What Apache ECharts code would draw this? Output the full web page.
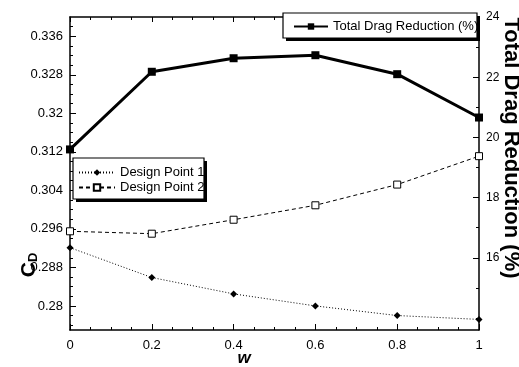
<!DOCTYPE html>
<html><head><meta charset="utf-8">
<script src="https://cdn.jsdelivr.net/npm/echarts@6/dist/echarts.min.js"></script>
<style>html,body{margin:0;padding:0;background:#fff}#c{width:519px;height:367px}</style>
</head><body><div id="c"></div>
<script>
// ---- data ----
const wValues = [0, 0.2, 0.4, 0.6, 0.8, 1];
const totalDragReduction = [19.60, 22.18, 22.63, 22.73, 22.10, 20.66];
const designPoint1 = [0.2921, 0.2859, 0.2825, 0.2800, 0.2780, 0.2772];
const designPoint2 = [0.2955, 0.2950, 0.2979, 0.3009, 0.3052, 0.3111];
const cdTicks = [0.28, 0.288, 0.296, 0.304, 0.312, 0.32, 0.328, 0.336];
const cdMinorTicks = [0.276, 0.278, 0.282, 0.284, 0.286, 0.29, 0.292, 0.294, 0.298, 0.3, 0.302,
  0.306, 0.308, 0.31, 0.314, 0.316, 0.318, 0.322, 0.324, 0.326, 0.33, 0.332, 0.334, 0.338];
const dragTicks = [16, 18, 20, 22, 24];
const dragMinorTicks = [14, 15, 17, 19, 21, 23];
const seriesNames = ['Design Point 1', 'Design Point 2', 'Total Drag Reduction (%)'];

const pairs = (ys) => wValues.map((w, i) => [w, ys[i]]);
const FONT = 'Liberation Sans, Arial, sans-serif';

// legend frame boxes (x, y, width, height)
const legendBoxes = [[73, 158, 131, 41], [283, 13, 194, 25]];

const chart = echarts.init(document.getElementById('c'), null, {renderer: 'canvas'});
const lineAxis = {show: true, lineStyle: {color: '#000', width: 1.5}};

const boxGraphics = [];
legendBoxes.forEach(([x, y, w, h]) => {
  boxGraphics.push({type: 'rect', z: 3, shape: {x: x + 3, y: y + 3, width: w, height: h}, style: {fill: '#000'}});
  boxGraphics.push({type: 'rect', z: 3, shape: {x: x, y: y, width: w, height: h}, style: {fill: '#fff', stroke: '#000', lineWidth: 1.2}});
});

const option = {
  animation: false,
  backgroundColor: '#fff',
  grid: {left: 70, right: 40, top: 17, bottom: 37},
  legend: [
    {
      data: [seriesNames[0], seriesNames[1]],
      orient: 'vertical', left: 73, top: 158,
      padding: [8, 3, 5, 5],
      itemWidth: 36, itemHeight: 8, itemGap: 2,
      textStyle: {fontFamily: FONT, fontSize: 13, color: '#000', lineHeight: 13}
    },
    {
      data: [seriesNames[2]],
      left: 283, top: 13,
      padding: [7, 3, 6, 10],
      itemWidth: 34, itemHeight: 8,
      textStyle: {fontFamily: FONT, fontSize: 13, color: '#000', lineHeight: 13}
    }
  ],
  xAxis: [
    {
      type: 'value', position: 'bottom', min: 0, max: 1, interval: 0.2,
      axisLine: lineAxis,
      axisTick: {inside: true, length: 6, lineStyle: {color: '#000', width: 1}},
      minorTick: {show: true, splitNumber: 4, length: 3, lineStyle: {color: '#000', width: 1}},
      axisLabel: {fontFamily: FONT, fontSize: 13, color: '#000', margin: 9},
      splitLine: {show: false}
    },
    {
      type: 'value', position: 'top', min: 0, max: 1, interval: 0.2,
      axisLine: lineAxis,
      axisTick: {inside: true, length: 5, lineStyle: {color: '#000', width: 1}},
      minorTick: {show: true, splitNumber: 4, length: 3, lineStyle: {color: '#000', width: 1}},
      axisLabel: {show: false},
      splitLine: {show: false}
    }
  ],
  yAxis: [
    {
      type: 'value', position: 'left', min: 0.275, max: 0.34,
      axisLine: lineAxis,
      axisTick: {inside: true, length: 6, customValues: cdTicks, lineStyle: {color: '#000', width: 1}},
      axisLabel: {customValues: cdTicks, fontFamily: FONT, fontSize: 13, color: '#000', margin: 7},
      splitLine: {show: false}
    },
    {
      type: 'value', position: 'left', min: 0.275, max: 0.34,
      axisLine: {show: false},
      axisTick: {inside: true, length: 3, customValues: cdMinorTicks, lineStyle: {color: '#000', width: 1}},
      axisLabel: {show: false},
      splitLine: {show: false}
    },
    {
      type: 'value', position: 'right', min: 13.6, max: 24,
      axisLine: lineAxis,
      axisTick: {inside: true, length: 6, customValues: dragTicks, lineStyle: {color: '#000', width: 1}},
      axisLabel: {customValues: dragTicks, fontFamily: FONT, fontSize: 12, color: '#000', margin: 7},
      splitLine: {show: false}
    },
    {
      type: 'value', position: 'right', min: 13.6, max: 24,
      axisLine: {show: false},
      axisTick: {inside: true, length: 3, customValues: dragMinorTicks, lineStyle: {color: '#000', width: 1}},
      axisLabel: {show: false},
      splitLine: {show: false}
    }
  ],
  series: [
    {
      name: seriesNames[0], type: 'line', xAxisIndex: 0, yAxisIndex: 0,
      data: pairs(designPoint1),
      symbol: 'diamond', symbolSize: 7,
      itemStyle: {color: '#000'},
      lineStyle: {color: '#000', width: 1, type: [1, 2]}
    },
    {
      name: seriesNames[1], type: 'line', xAxisIndex: 0, yAxisIndex: 0,
      data: pairs(designPoint2),
      symbol: 'rect', symbolSize: 7,
      itemStyle: {color: '#fff', borderColor: '#000', borderWidth: 1},
      lineStyle: {color: '#000', width: 1, type: [4, 3]}
    },
    {
      name: seriesNames[2], type: 'line', xAxisIndex: 0, yAxisIndex: 2,
      data: pairs(totalDragReduction),
      symbol: 'rect', symbolSize: 8,
      itemStyle: {color: '#000'},
      lineStyle: {color: '#000', width: 3}
    }
  ],
  graphic: boxGraphics.concat([
    {
      type: 'text', x: 29, y: 265, rotation: Math.PI / 2,
      style: {
        text: '{c|C}{d|D}', align: 'center', verticalAlign: 'middle',
        textAlign: 'center', textVerticalAlign: 'middle',
        rich: {
          c: {fontFamily: FONT, fontSize: 21, fontWeight: 'bold', fill: '#000', color: '#000'},
          d: {fontFamily: FONT, fontSize: 13, fontWeight: 'bold', fill: '#000', color: '#000', verticalAlign: 'bottom', padding: [8, 0, 0, 0]}
        }
      }
    },
    {
      type: 'text', x: 511, y: 148, rotation: -Math.PI / 2,
      style: {
        text: 'Total Drag Reduction (%)', fill: '#000',
        font: 'bold 22px ' + FONT,
        align: 'center', verticalAlign: 'middle', textAlign: 'center', textVerticalAlign: 'middle'
      }
    },
    {
      type: 'text', x: 244, y: 358,
      style: {
        text: 'w', fill: '#000',
        font: 'italic bold 17px ' + FONT,
        align: 'center', verticalAlign: 'middle', textAlign: 'center', textVerticalAlign: 'middle'
      }
    }
  ])
};
chart.setOption(option);
</script>
</body></html>
